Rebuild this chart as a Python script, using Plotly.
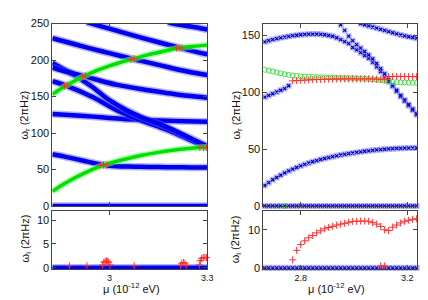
import plotly.graph_objects as go

# ================= LEFT PANEL (continuous bands) =================
LB1_MU = [2.825, 2.86, 2.891, 2.92, 2.951, 2.982, 3.022, 3.06, 3.093, 3.15, 3.2, 3.25, 3.3]
LB1_W = [71, 68, 65, 62, 59, 56.3, 54.6, 54, 53.7, 53.3, 53.1, 52.9, 52.8]

LD_MU = [2.825, 2.9, 2.95, 3.0, 3.05, 3.1, 3.2, 3.3]
LD_W = [126, 124, 122.5, 120.5, 119, 118, 116.5, 115.5]

LA_MU = [2.825, 2.867, 2.95, 3.024, 3.1, 3.175, 3.24, 3.3]
LA_W = [171, 165, 149, 131, 117, 104.5, 92, 80]

LBB_MU = [2.825, 2.86, 2.89, 2.92, 2.95, 2.975, 3.0, 3.05, 3.1, 3.175, 3.24, 3.3]
LBB_W = [196, 187.5, 180, 171.5, 162.5, 153.5, 145, 132, 121.5, 108.5, 95, 82]

LC_MU = [2.825, 2.86, 2.923, 2.97, 3.024, 3.1, 3.175, 3.24, 3.3]
LC_W = [190, 185, 178, 172, 166, 160, 155, 151, 148.5]

LE_MU = [2.825, 2.9, 2.95, 3.0, 3.072, 3.15, 3.22, 3.3]
LE_W = [230, 221, 215, 209.5, 201.5, 193.5, 186, 179.5]

LF_MU = [2.93, 2.946, 3.0, 3.1, 3.214, 3.26, 3.3]
LF_W = [252, 250, 243, 230.5, 217, 212, 208]

LG_MU = [3.18, 3.194, 3.25, 3.3]
LG_W = [252, 250, 246, 242]

GR1_MU = [2.825, 2.85, 2.875, 2.9, 2.925, 2.95, 2.982, 3.02, 3.06, 3.1, 3.15, 3.2, 3.25, 3.3]
GR1_W = [20, 27.5, 34, 40, 45.5, 50.5, 56, 61, 65.5, 69.5, 73.5, 76.8, 79.3, 81]

GR2_MU = [2.825, 2.845, 2.867, 2.895, 2.923, 2.96, 3.0, 3.035, 3.072, 3.12, 3.17, 3.214, 3.26, 3.3]
GR2_W = [153, 159, 165, 172, 178, 185.5, 192, 197, 201.5, 207.5, 212.5, 216.5, 219, 220.5]

RED_TL_MU = [2.862, 2.870, 2.918, 2.926, 3.066, 3.076, 2.972, 2.982, 2.992, 3.206, 3.214, 3.222, 3.278, 3.289, 3.299]
RED_TL_W = [164.5, 165.5, 177.5, 178.5, 201, 202, 56.3, 56.3, 56.3, 216.5, 216.5, 216.5, 80, 80, 80]

ZERO_L_MU = [2.825, 3.3]
ZERO_L_W = [0, 0]

RED_BL_MU = [2.877, 2.931, 2.979, 2.983, 2.987, 2.991, 2.995, 2.998, 3.002, 3.076,
             3.218, 3.222, 3.227, 3.232, 3.236, 3.276, 3.279, 3.283, 3.288, 3.293, 3.298]
RED_BL_W = [0.4, 0.4, 0.6, 1.15, 1.35, 1.42, 1.35, 1.15, 0.6, 0.4,
            0.5, 0.95, 1.08, 0.95, 0.5, 0.6, 1.5, 1.95, 2.15, 2.2, 2.1]

# ================= RIGHT PANEL (discrete points) =================
R_MU = [2.665, 2.680, 2.695, 2.710, 2.725, 2.740, 2.755, 2.770, 2.785, 2.800,
        2.815, 2.830, 2.845, 2.860, 2.875, 2.890, 2.905, 2.920, 2.935, 2.950,
        2.965, 2.980, 2.995, 3.010, 3.025, 3.040, 3.055, 3.070, 3.085, 3.100,
        3.115, 3.130, 3.145, 3.160, 3.175, 3.190, 3.205, 3.220, 3.235]

R_BLUE_LOW = [18, 20.5, 23, 25, 27, 29, 30.8, 32.3, 33.8, 35.2,
              36.5, 37.7, 38.8, 39.8, 40.8, 41.7, 42.5, 43.3, 44.0, 44.7,
              45.3, 45.9, 46.5, 47.0, 47.5, 48.0, 48.4, 48.8, 49.2, 49.5,
              49.8, 50.1, 50.3, 50.5, 50.6, 50.7, 50.8, 50.9, 51.0]

R_BLUE_UP = [144, 145, 146, 146.8, 147.5, 148.2, 148.8, 149.4, 149.8, 150.2,
             150.5, 150.7, 150.8, 150.8, 150.6, 150.2, 149.6, 148.9, 147.6, 146,
             144.2, 142.5, 139, 137, 134.5, 132, 129.5, 126, 122, 118,
             113, 109, 105, 100.5, 96, 92, 88, 84, 80]

R_BLUE_2 = [159, 154, 149, 145, 141.5, 138.5, 135.5, 132.5, 129, 125,
            120.5, 116, 111, 106, 101.5, 97, 93, 89, 85, 81]  # from 2.950

R_BLUE_T = [160, 159, 158, 157, 156, 155, 154, 153, 152, 151,
            150, 149.2, 148.5, 147.8, 147.2]  # from 3.025

R_BLUE_L = [95.5, 97, 98.5, 100, 101.5, 103, 105.5]  # 2.665 .. 2.755

R_GREEN = [119.5, 118.8, 118.0, 117.2, 116.4, 115.6, 115.0, 114.5, 114.1, 113.8,
           113.6, 113.4, 113.2, 113.0, 112.9, 112.8, 112.7, 112.6, 112.5, 112.4,
           112.3, 112.2, 112.1, 112.0, 111.8, 111.6, 111.4, 111.1, 110.8, 110.4,
           109.8, 109.2, 108.8, 108.6, 108.4, 108.3, 108.2, 108.1, 108.0]

R_RED_RE = [109.8, 110.0, 110.2, 110.4, 110.6, 110.8, 110.9, 111.0, 111.1, 111.2,
            111.3, 111.4, 111.4, 111.5, 111.5, 111.5, 111.5, 111.5, 111.5, 111.5,
            111.4, 111.3, 111.2, 111.0, 113.6, 113.7, 113.7, 113.7, 113.6, 113.6,
            113.5, 113.5]  # from 2.770

R_RED_IM = [2.1, 4.6, 6.1, 7.1, 7.9, 8.5, 9.2, 9.75, 10.25, 10.6,
            10.9, 11.25, 11.5, 11.7, 12.0, 12.2, 12.25, 12.3, 12.3, 12.25,
            11.9, 11.5, 10.9, 10.0, 9.8, 10.7, 11.25, 11.8, 12.25, 12.5,
            12.75, 12.9]  # from 2.770

R_RED_IM0_MU = [3.100, 3.115]
R_RED_IM0 = [0.5, 0.5]

R_ZERO = [0.0] * len(R_MU)
R_GREEN0_MU = [2.740]
R_GREEN0 = [0.0]

# ================= STYLES =================
BLUE = "#0000ee"
BLUE_HALO = "rgba(90,90,255,0.45)"
GREEN = "#00e000"
GREEN_HALO = "rgba(110,255,110,0.55)"
RED = "#ff3030"
FONT = "Liberation Sans, Arial, sans-serif"

fig = go.Figure()


def band(mu, w, core, halo, cw, hw, xa, ya):
    fig.add_trace(go.Scatter(x=mu, y=w, mode="lines", line=dict(color=halo, width=hw, shape="spline", smoothing=0.8),
                             xaxis=xa, yaxis=ya, hoverinfo="skip"))
    fig.add_trace(go.Scatter(x=mu, y=w, mode="lines", line=dict(color=core, width=cw, shape="spline", smoothing=0.8),
                             xaxis=xa, yaxis=ya, hoverinfo="skip"))


def red_pts(mu, w, xa, ya, size=5, clip=True):
    fig.add_trace(go.Scatter(x=mu, y=w, mode="markers", cliponaxis=clip,
                             marker=dict(symbol="cross-thin-open", size=size, color=RED,
                                         line=dict(color=RED, width=1)),
                             xaxis=xa, yaxis=ya))


# Left top
for mu, w in [(LB1_MU, LB1_W), (LD_MU, LD_W), (LA_MU, LA_W), (LBB_MU, LBB_W), (LC_MU, LC_W),
              (LE_MU, LE_W), (LF_MU, LF_W), (LG_MU, LG_W), (ZERO_L_MU, ZERO_L_W)]:
    band(mu, w, BLUE, BLUE_HALO, 4.5, 7.5, "x", "y")
for mu, w in [(GR1_MU, GR1_W), (GR2_MU, GR2_W)]:
    band(mu, w, GREEN, GREEN_HALO, 3.5, 6.5, "x", "y")
red_pts(RED_TL_MU, RED_TL_W, "x", "y", size=5)

# Left bottom
band(ZERO_L_MU, ZERO_L_W, BLUE, BLUE_HALO, 4.5, 7.5, "x2", "y2")
red_pts(RED_BL_MU, RED_BL_W, "x2", "y2", size=5, clip=False)


def blue_pts(mu, w, xa, ya, clip=True):
    fig.add_trace(go.Scatter(x=mu, y=w, mode="markers", cliponaxis=clip,
                             marker=dict(symbol="square", size=6, color="rgba(110,110,255,0.45)", line=dict(width=0)),
                             xaxis=xa, yaxis=ya))
    fig.add_trace(go.Scatter(x=mu, y=w, mode="markers", cliponaxis=clip,
                             marker=dict(symbol="x-thin-open", size=3, color="#0000c8",
                                         line=dict(color="#0000c8", width=1.2)),
                             xaxis=xa, yaxis=ya))


def green_pts(mu, w, xa, ya, clip=True):
    fig.add_trace(go.Scatter(x=mu, y=w, mode="markers", cliponaxis=clip,
                             marker=dict(symbol="circle-open", size=5, color="#40e040",
                                         line=dict(color="#40e040", width=1)),
                             xaxis=xa, yaxis=ya))


# Right top
blue_pts(R_MU, R_ZERO, "x3", "y3", clip=False)
blue_pts(R_MU, R_BLUE_LOW, "x3", "y3")
blue_pts(R_MU, R_BLUE_UP, "x3", "y3")
blue_pts(R_MU[19:], R_BLUE_2, "x3", "y3")
blue_pts(R_MU[24:], R_BLUE_T, "x3", "y3")
blue_pts(R_MU[:7], R_BLUE_L, "x3", "y3")
green_pts(R_MU, R_GREEN, "x3", "y3")
green_pts(R_GREEN0_MU, R_GREEN0, "x3", "y3", clip=False)
red_pts(R_MU[7:], R_RED_RE, "x3", "y3")

# Right bottom
blue_pts(R_MU, R_ZERO, "x4", "y4", clip=False)
red_pts(R_MU[7:], R_RED_IM, "x4", "y4")
red_pts(R_RED_IM0_MU, R_RED_IM0, "x4", "y4", clip=False)

W, H = 428, 300
LX = [45 / W, 202 / W]
RX = [259 / W, 415 / W]
TY = [1 - 200 / H, 1 - 10 / H]
BY = [1 - 266 / H, 1 - 205 / H]

ax = dict(showline=True, linecolor="#444", linewidth=1, mirror="allticks", ticks="inside", ticklen=4,
          tickcolor="#444", showgrid=False, zeroline=False, tickfont=dict(family=FONT, size=10, color="#111"))

fig.update_layout(
    width=W, height=H, margin=dict(l=0, r=0, t=0, b=0),
    paper_bgcolor="white", plot_bgcolor="white", showlegend=False,
    xaxis=dict(ax, domain=LX, range=[2.825, 3.3], tickvals=[3, 3.3], showticklabels=False, anchor="y"),
    yaxis=dict(ax, domain=TY, range=[0, 250], tickvals=[0, 50, 100, 150, 200, 250], anchor="x",
               tickfont=dict(family=FONT, size=11, color="#111")),
    xaxis2=dict(ax, domain=LX, range=[2.825, 3.3], tickvals=[3, 3.3], ticktext=["3", "3.3"], anchor="y2",
                tickfont=dict(family=FONT, size=9, color="#111")),
    yaxis2=dict(ax, domain=BY, range=[-0.35, 12], tickvals=[0, 5, 10], anchor="x2",
                tickfont=dict(family=FONT, size=11, color="#111")),
    xaxis3=dict(ax, domain=RX, range=[2.66, 3.237], tickvals=[2.8, 3.2], showticklabels=False, anchor="y3"),
    yaxis3=dict(ax, domain=TY, range=[0, 160], tickvals=[0, 50, 100, 150], anchor="x3",
                tickfont=dict(family=FONT, size=11, color="#111")),
    xaxis4=dict(ax, domain=RX, range=[2.66, 3.237], tickvals=[2.8, 3.2], anchor="y4",
                tickfont=dict(family=FONT, size=9, color="#111")),
    yaxis4=dict(ax, domain=BY, range=[-0.4, 15], tickvals=[0, 10], anchor="x4",
                tickfont=dict(family=FONT, size=11, color="#111")),
)

tf = dict(family=FONT, size=11, color="#111")
ann = [
    dict(text="ω<sub>r</sub> (2πHz)", x=17 / W, y=1 - 105 / H, textangle=-90),
    dict(text="ω<sub>r</sub> (2πHz)", x=232 / W, y=1 - 105 / H, textangle=-90),
    dict(text="ω<sub>i</sub> (2πHz)", x=18 / W, y=1 - 234 / H, textangle=-90),
    dict(text="ω<sub>i</sub> (2πHz)", x=231 / W, y=1 - 235 / H, textangle=-90),
    dict(text="μ (10<sup>-12</sup> eV)", x=125 / W, y=1 - 285 / H, textangle=0),
    dict(text="μ (10<sup>-12</sup> eV)", x=333 / W, y=1 - 285 / H, textangle=0),
]
for a in ann:
    fig.add_annotation(xref="paper", yref="paper", showarrow=False, xanchor="center", yanchor="middle",
                       font=tf, **a)

fig.write_html("out.html")
